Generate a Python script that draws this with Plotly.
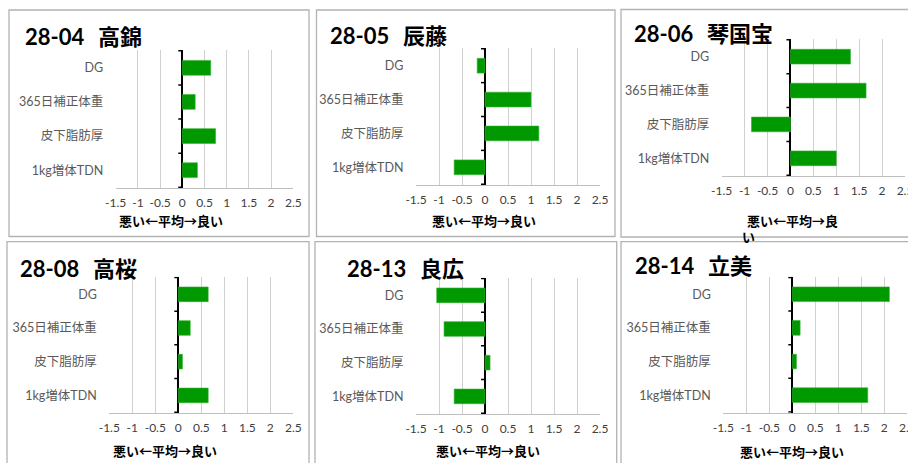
import plotly.graph_objects as go

W, H = 908, 463

categories = ["DG", "365日補正体重", "皮下脂肪厚", "1kg増体TDN"]
panel_titles = ["28-04\u2002\u2009高錦", "28-05\u2002\u2009辰藤", "28-06\u2002\u2009琴国宝",
                "28-08\u2002\u2009高桜", "28-13\u2002\u2009良広", "28-14\u2002\u2009立美"]

v_2804 = [0.64, 0.29, 0.75, 0.34]
v_2805 = [-0.17, 1.00, 1.17, -0.67]
v_2806 = [1.31, 1.65, -0.85, 1.00]
v_2808 = [0.65, 0.26, 0.09, 0.65]
v_2813 = [-1.05, -0.89, 0.11, -0.67]
v_2814 = [2.11, 0.17, 0.09, 1.64]
series = [v_2804, v_2805, v_2806, v_2808, v_2813, v_2814]

x_tick_vals = [-1.5, -1, -0.5, 0, 0.5, 1, 1.5, 2, 2.5]
x_tick_text = ["-1.5", "-1", "-0.5", "0", "0.5", "1", "1.5", "2", "2.5"]
x_title = "悪い←平均→良い"

# layout in pixels
plot_boxes = [  # x0, x1, ytop, ybottom
    (115.7, 293.3, 50, 188),
    (416, 600, 48, 185),
    (721.7, 905, 39, 176),
    (109.3, 293.3, 276.7, 413),
    (416, 600, 277.7, 414),
    (723.3, 907.3, 276.7, 412.7),
]
title_pos = [(22.7, 36.7), (327.7, 35), (632, 33.3), (18, 268.3), (345, 268), (633, 265)]
xtitle_pos = [(171, 220), (484, 220), (792, 220), (165, 450), (487.5, 450), (792, 451.7)]
frames = [
    (9, 309, 10, 236.5),
    (316.5, 615, 10, 236.5),
    (621, 915, 9.5, 237),
    (7, 309, 241.7, 470),
    (315, 616.7, 241.7, 470),
    (621, 915, 241.7, 470),
]

def px(x):
    return x / W

def py(y):
    return 1 - y / H

LATIN_CJK = "Lato, 'Noto Sans CJK JP', sans-serif"
CJK = "'Noto Sans CJK JP', sans-serif"

fig = go.Figure()
shapes = []
annotations = []

for i, vals in enumerate(series):
    n = i + 1
    xa = "x" if n == 1 else f"x{n}"
    ya = "y" if n == 1 else f"y{n}"
    fig.add_trace(go.Bar(
        x=vals, y=categories, orientation="h",
        xaxis=xa, yaxis=ya,
        marker=dict(color="#009900", line=dict(color="#33b033", width=0.6)),
        showlegend=False,
    ))
    x0, x1, yt, yb = plot_boxes[i]
    fig.layout[f"xaxis{'' if n == 1 else n}"] = dict(
        domain=[px(x0), px(x1)], anchor=ya, automargin=False,
        range=[x_tick_vals[0], x_tick_vals[-1]],
        tickvals=x_tick_vals, ticktext=x_tick_text,
        ticklabeloverflow="allow",
        showgrid=True, gridcolor="#d0d0d0", gridwidth=1,
        zeroline=True, zerolinecolor="#000000", zerolinewidth=2,
        showline=True, linecolor="#bfbfbf", linewidth=1,
        ticks="outside", ticklen=4, tickcolor="rgba(0,0,0,0)",
        tickfont=dict(family=LATIN_CJK, size=12, color="#404040"),
        fixedrange=True,
    )
    fig.layout[f"yaxis{'' if n == 1 else n}"] = dict(
        domain=[py(yb), py(yt)], anchor=xa, automargin=False,
        type="category", categoryorder="array", categoryarray=categories,
        autorange="reversed",
        showgrid=False, zeroline=False, showline=False,
        ticks="outside", ticklen=9, tickcolor="rgba(0,0,0,0)",
        tickfont=dict(family=LATIN_CJK, size=12.5, color="#595959"),
        fixedrange=True,
    )
    # small tick marks on the zero axis at category boundaries
    for k in range(len(categories) + 1):
        shapes.append(dict(
            type="line", xref=xa, yref=ya, xsizemode="pixel", xanchor=0,
            x0=-4, x1=0, y0=k - 0.5, y1=k - 0.5,
            line=dict(color="#000000", width=1.5),
        ))
    # panel frame
    fx0, fx1, fy0, fy1 = frames[i]
    shapes.append(dict(
        type="rect", xref="paper", yref="paper",
        x0=px(fx0), x1=px(fx1), y0=py(fy1), y1=py(fy0),
        line=dict(color="#b3b3b3", width=1.3), fillcolor="rgba(0,0,0,0)", layer="below",
    ))
    tx, ty = title_pos[i]
    annotations.append(dict(
        text=f"<b>{panel_titles[i]}</b>", xref="paper", yref="paper",
        x=px(tx), y=py(ty), xanchor="left", yanchor="middle", showarrow=False,
        font=dict(family=LATIN_CJK, size=22, color="#000000"),
    ))
    ax, ay = xtitle_pos[i]
    label = x_title if i != 2 else x_title[:-1]
    annotations.append(dict(
        text=f"<b>{label}</b>", xref="paper", yref="paper",
        x=px(ax), y=py(ay), xanchor="center", yanchor="middle", showarrow=False,
        font=dict(family=CJK, size=13, color="#000000"),
    ))
    if i == 2:
        annotations.append(dict(
            text=f"<b>{x_title[-1]}</b>", xref="paper", yref="paper",
            x=px(748), y=py(236), xanchor="center", yanchor="middle", showarrow=False,
            font=dict(family=CJK, size=13, color="#000000"),
        ))

fig.update_layout(
    template="none",
    width=W, height=H, autosize=False,
    margin=dict(l=0, r=0, t=0, b=0, pad=0, autoexpand=False),
    paper_bgcolor="#ffffff", plot_bgcolor="#ffffff",
    bargap=0.565,
    shapes=shapes, annotations=annotations,
    showlegend=False,
)

fig.write_html(
    "out.html",
    config={"displayModeBar": False},
    post_script="document.body.style.margin='0';document.body.style.overflow='hidden';",
)
